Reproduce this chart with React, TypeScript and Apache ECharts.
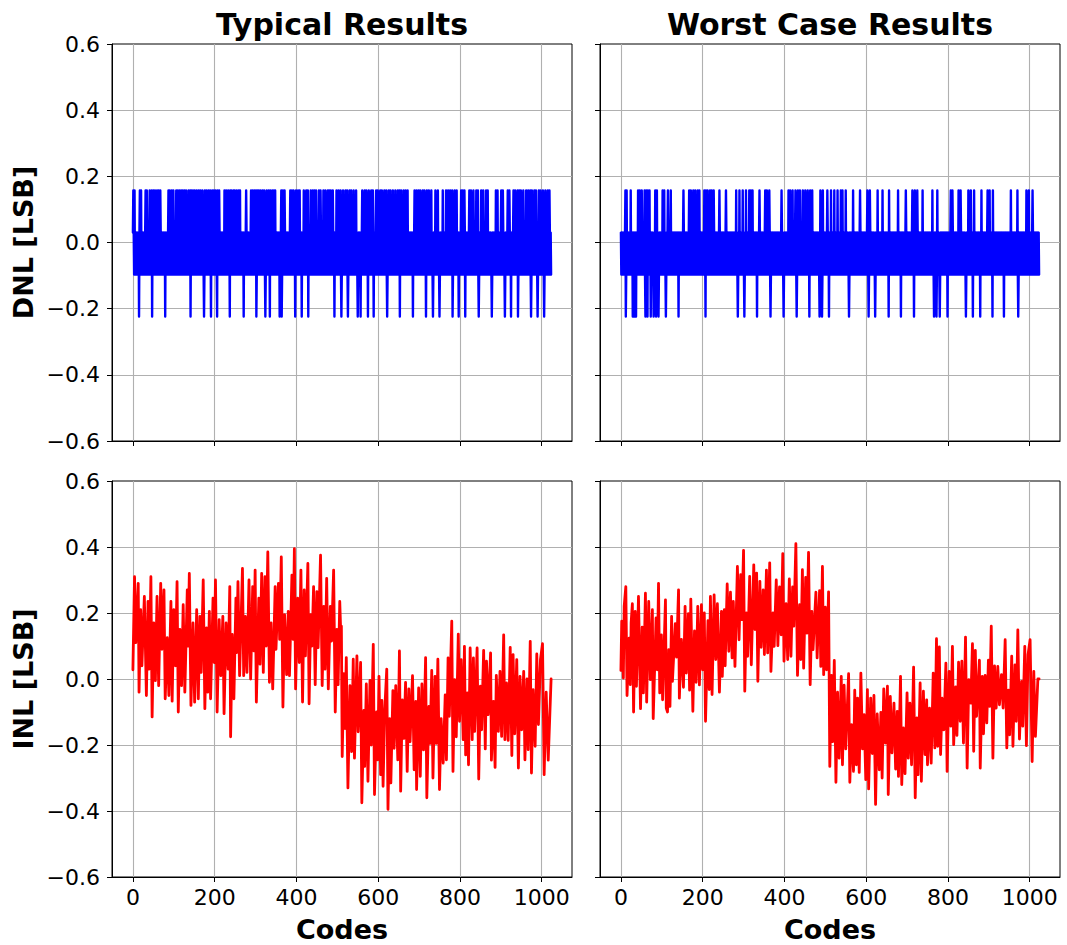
import React, { useEffect, useRef } from 'react';
import * as echarts from 'echarts';

const xTicks = [0, 200, 400, 600, 800, 1000];
const columnTitles = ['Typical Results', 'Worst Case Results'];
const rowLabels = ['DNL [LSB]', 'INL [LSB]'];
const xLabel = 'Codes';
const codeCount = 1024;
// DNL quantised levels: [down spike, band bottom, band top, up spike]
const dnlLevels = [-0.224, -0.097, 0.03, 0.157];

const dnlTypicalUp = [1,4,17,20,31,34,41,46,50,54,59,63,67,87,90,95,99,106,110,114,118,122,126,130,136,140,143,147,151,156,161,165,170,176,180,185,189,194,198,202,207,211,224,228,233,238,241,246,249,254,259,262,277,289,293,297,301,304,308,312,317,321,327,332,336,341,345,348,363,367,371,385,389,393,399,404,408,418,424,428,435,440,444,448,455,459,466,471,477,480,484,489,498,503,508,514,520,524,530,534,540,546,561,567,571,577,583,587,595,599,605,609,615,620,626,630,636,642,648,652,656,662,667,672,689,694,699,703,709,713,719,724,730,740,746,758,766,771,776,781,787,792,803,807,811,823,827,833,840,844,852,857,864,868,888,892,901,905,917,921,931,935,941,945,949,955,962,967,972,976,982,986,993,997,1003,1009,1015,1019];
const dnlTypicalDown = [15,47,79,141,174,191,206,237,271,302,324,335,359,364,397,413,429,493,510,526,550,557,575,589,622,653,685,717,734,750,782,797,813,846,878,910,925,942,974,990,1006];
const dnlWorstUp = [11,14,24,42,46,51,58,62,66,70,84,88,102,106,115,122,153,167,171,177,182,188,192,204,208,212,218,222,227,241,257,282,290,298,306,314,318,322,339,353,357,363,393,410,414,420,427,433,438,445,451,457,463,468,488,494,505,514,522,530,538,542,550,568,585,603,609,628,640,656,678,697,713,719,725,738,762,774,807,811,826,831,850,856,864,882,897,902,910,954,970,992,998,1007];
const dnlWorstDown = [12,29,33,37,60,65,73,80,86,92,110,141,207,286,302,333,366,398,430,461,486,492,509,558,606,622,655,685,717,766,772,780,799,844,861,879,909,937,972];

const inlTypical = [[0,0.028],[4,0.31],[7,0.11],[13,0.29],[15,-0.04],[19,0.21],[22,0.04],[28,0.25],[33,-0.05],[37,0.235],[40,0.03],[44,0.31],[47,-0.115],[51,0.17],[55,-0.005],[59,0.25],[63,-0.02],[68,0.29],[71,0.09],[76,0.27],[79,-0.06],[84,0.125],[88,-0.05],[93,0.235],[96,-0.067],[100,0.21],[104,0.04],[108,0.295],[111,-0.10],[115,0.15],[119,-0.02],[123,0.225],[127,-0.04],[133,0.27],[135,0.1],[138,0.32],[142,-0.08],[147,0.17],[151,-0.07],[156,0.21],[160,-0.06],[164,0.19],[167,0.02],[172,0.30],[176,-0.09],[180,0.155],[183,-0.04],[187,0.205],[190,-0.06],[196,0.245],[199,0.05],[202,0.30],[206,-0.10],[211,0.18],[215,0.01],[220,0.19],[223,-0.105],[228,0.17],[233,0.03],[237,0.28],[239,-0.175],[243,0.135],[247,-0.06],[252,0.245],[254,0.08],[257,0.295],[261,0.01],[268,0.335],[271,0.01],[275,0.19],[279,0.02],[284,0.30],[288,0.00],[293,0.28],[296,0.085],[299,0.33],[302,-0.07],[308,0.245],[311,0.045],[315,0.32],[319,0.02],[323,0.31],[326,0.1],[330,0.385],[334,-0.01],[338,0.17],[342,-0.03],[348,0.28],[350,0.09],[356,0.29],[359,0.12],[363,0.37],[367,-0.085],[371,0.195],[376,0.013],[380,0.205],[383,0.01],[389,0.315],[392,0.12],[395,0.395],[398,-0.03],[403,0.245],[407,0.05],[411,0.33],[415,-0.07],[419,0.27],[422,0.07],[428,0.35],[431,-0.075],[435,0.195],[438,0.10],[442,0.28],[446,-0.017],[450,0.265],[453,0.095],[459,0.375],[463,-0.02],[467,0.22],[470,0.03],[474,0.305],[478,-0.03],[483,0.22],[486,0.115],[491,0.33],[495,-0.10],[499,0.15],[502,-0.017],[506,0.235],[509,0.12],[510,0.16],[512,-0.235],[516,0.016],[519,-0.15],[522,0.065],[526,-0.33],[531,-0.02],[535,-0.22],[539,0.06],[542,-0.24],[548,0.07],[551,-0.16],[557,0.05],[560,-0.375],[565,-0.095],[567,-0.265],[571,-0.015],[575,-0.31],[580,-0.004],[583,-0.20],[588,0.105],[591,-0.35],[596,-0.10],[599,-0.245],[602,0.008],[606,-0.29],[609,-0.065],[612,-0.325],[616,-0.095],[621,0.03],[624,-0.395],[628,-0.12],[631,-0.315],[636,-0.035],[639,-0.21],[643,-0.02],[648,-0.245],[652,0.085],[655,-0.34],[659,-0.063],[663,-0.18],[667,-0.01],[671,-0.28],[675,-0.03],[678,-0.19],[684,0.01],[688,-0.275],[692,-0.068],[694,-0.335],[699,-0.027],[703,-0.295],[707,-0.015],[711,-0.215],[716,0.065],[719,-0.36],[724,-0.083],[727,-0.195],[731,0.026],[734,-0.30],[739,0.008],[742,-0.195],[746,0.06],[750,-0.335],[754,-0.12],[759,-0.255],[764,-0.048],[767,-0.245],[771,0.064],[774,-0.113],[780,0.175],[783,-0.28],[787,-0.002],[791,-0.175],[796,0.136],[799,-0.128],[803,0.059],[808,-0.184],[811,0.099],[814,-0.23],[818,-0.042],[821,-0.26],[825,0.094],[830,-0.184],[833,0.064],[836,-0.159],[842,0.094],[846,-0.303],[850,-0.022],[853,-0.154],[858,0.087],[862,-0.212],[865,0.054],[869,-0.108],[875,0.079],[877,-0.246],[882,-0.068],[886,-0.268],[889,0.011],[894,-0.159],[898,0.023],[902,-0.174],[907,0.134],[910,-0.184],[914,-0.012],[918,-0.186],[923,0.096],[927,-0.232],[930,0.074],[934,-0.166],[939,0.059],[943,-0.27],[947,0.008],[951,-0.154],[956,0.023],[959,-0.245],[964,0],[967,-0.214],[972,0.114],[975,-0.285],[979,-0.032],[984,-0.204],[988,0.076],[992,-0.138],[997,0.059],[1002,0.107],[1006,-0.29],[1011,-0.04],[1016,-0.246],[1023,0.0]];

const inlWorst = [[0,0.026],[2,0.175],[6,0.003],[8,0.22],[12,0.28],[15,-0.05],[20,0.124],[23,-0.017],[25,0.17],[28,0.228],[31,-0.10],[35,0.205],[38,-0.022],[43,0.25],[48,-0.09],[52,0.157],[55,-0.042],[60,0.26],[63,-0.07],[68,0.235],[72,-0.002],[77,0.21],[79,-0.12],[86,0.185],[89,0.028],[92,0.29],[95,-0.042],[99,0.134],[102,-0.063],[109,0.24],[111,-0.088],[114,-0.10],[117,0.089],[120,-0.083],[124,0.19],[126,-0.007],[133,0.168],[136,0.066],[141,0.27],[143,-0.058],[148,0.12],[153,-0.025],[157,0.22],[160,0.018],[165,0.198],[168,-0.034],[171,0.242],[176,-0.098],[180,0.146],[184,-0.01],[188,0.22],[192,-0.018],[197,0.225],[200,0.028],[204,0.2],[207,-0.128],[213,0.177],[216,-0.032],[219,0.25],[223,-0.047],[228,0.255],[232,0.059],[236,0.228],[241,-0.04],[246,0.205],[248,0.008],[253,0.21],[255,0.04],[260,0.288],[264,0.084],[268,0.263],[272,0.064],[275,0.235],[279,0.038],[285,0.341],[289,0.119],[293,0.316],[296,0.18],[300,0.39],[303,-0.037],[307,0.2],[310,0.069],[315,0.311],[319,0.043],[325,0.346],[328,0.15],[332,0.321],[335,-0.007],[340,0.296],[343,0.096],[348,0.27],[351,0.074],[356,0.33],[359,0.079],[364,0.352],[367,0.023],[372,0.2],[375,0.099],[380,0.30],[384,0.101],[388,0.279],[392,0.134],[396,0.38],[399,0.054],[404,0.228],[408,0.059],[412,0.303],[416,0.069],[420,0.279],[423,0.16],[428,0.41],[432,0.011],[437,0.225],[440,0.059],[444,0.331],[447,0.033],[452,0.308],[455,0.139],[459,0.384],[463,-0.017],[467,0.205],[470,0.089],[477,0.263],[480,0.064],[486,0.268],[489,0.038],[493,0.341],[496,0.013],[500,0.218],[503,0.028],[508,0.264],[511,-0.265],[515,0.011],[518,-0.19],[522,0.056],[526,-0.313],[530,-0.04],[534,-0.24],[539,0.008],[542,-0.26],[546,-0.019],[550,-0.212],[557,0.016],[560,-0.313],[564,-0.138],[569,-0.28],[572,-0.034],[576,-0.26],[579,-0.058],[583,-0.283],[587,0.018],[591,-0.212],[595,-0.108],[599,-0.305],[603,-0.032],[606,-0.333],[611,-0.058],[615,-0.226],[619,-0.05],[623,-0.38],[627,-0.106],[632,-0.275],[636,-0.101],[639,-0.30],[643,-0.03],[647,-0.194],[652,-0.022],[654,-0.35],[659,-0.053],[663,-0.224],[668,-0.073],[672,-0.273],[676,-0.098],[679,-0.295],[684,0.008],[687,-0.32],[691,-0.148],[695,-0.287],[700,-0.042],[703,-0.24],[707,-0.073],[711,-0.26],[716,0.036],[720,-0.36],[724,-0.118],[727,-0.29],[732,-0.012],[735,-0.31],[740,-0.037],[744,-0.229],[748,-0.063],[750,-0.26],[755,-0.088],[759,-0.255],[764,0.018],[768,-0.209],[772,0.122],[775,-0.204],[779,0.097],[782,-0.229],[786,-0.058],[790,-0.154],[795,0.048],[798,-0.28],[803,0.023],[807,-0.143],[811,0.099],[814,-0.199],[819,-0.024],[822,-0.171],[826,0.051],[830,-0.128],[834,0.054],[838,-0.194],[843,0.127],[847,-0.27],[851,-0.002],[856,-0.073],[860,0.107],[863,-0.219],[867,0.087],[870,-0.113],[877,0.057],[879,-0.27],[884,0.008],[887,-0.166],[891,0.011],[895,-0.133],[899,0.057],[902,-0.083],[906,0.16],[910,-0.24],[914,0.04],[918,-0.088],[922,0.038],[926,-0.078],[931,0.013],[935,-0.088],[940,0.119],[944,-0.209],[948,-0.034],[951,-0.169],[956,0.069],[959,-0.204],[964,0.043],[967,-0.128],[971,0.149],[975,-0.182],[980,-0.007],[983,-0.143],[988,0.099],[992,-0.202],[996,0.074],[1001,0.119],[1006,-0.25],[1010,0.023],[1014,-0.174],[1020,0.0],[1023,0.0]];

function buildDnl(up: number[], down: number[]) {
  const upSet = new Set(up);
  const downSet = new Set(down);
  const out: number[][] = [];
  for (let i = 0; i < codeCount; i++) {
    let v: number;
    if (upSet.has(i)) v = dnlLevels[3];
    else if (downSet.has(i)) v = dnlLevels[0];
    else v = i % 2 === 0 ? dnlLevels[2] : dnlLevels[1];
    out.push([i, v]);
  }
  return out;
}

const FONT = 'DejaVu Sans';

export default function App() {
  const ref = useRef<HTMLDivElement>(null);
  useEffect(() => {
    if (!ref.current) return;
    const chart = echarts.init(ref.current, null, { renderer: 'svg' });
    const grids = [
      { left: 112, top: 44, width: 460, height: 397 },
      { left: 600, top: 44, width: 460, height: 397 },
      { left: 112, top: 481, width: 460, height: 396 },
      { left: 600, top: 481, width: 460, height: 396 },
    ];
    const fmtY = (v: number) => {
      const r = Math.round(v * 10) / 10;
      return (r < 0 ? '\u2212' : '') + Math.abs(r).toFixed(1);
    };
    const fmtX = (v: number) => String(Math.round(v));
    const xAxis = grids.map((_, i) => ({
      type: 'value',
      gridIndex: i,
      min: -51.15,
      max: 1074.15,
      axisLine: { show: true, onZero: false, lineStyle: { color: '#000', width: 1 } },
      axisTick: { show: true, customValues: xTicks, length: 5, inside: false, lineStyle: { color: '#000', width: 1 } },
      axisLabel: { show: i >= 2, customValues: xTicks, formatter: fmtX, fontSize: 22, color: '#000', fontFamily: FONT, margin: 9 },
      splitLine: { show: true, lineStyle: { color: '#b0b0b0', width: 1.1 } },
    }));
    const yAxis = grids.map((_, i) => ({
      type: 'value',
      gridIndex: i,
      min: -0.6,
      max: 0.6,
      interval: 0.2,
      axisLine: { show: true, onZero: false, lineStyle: { color: '#000', width: 1 } },
      axisTick: { show: true, length: 5, inside: false, lineStyle: { color: '#000', width: 1 } },
      axisLabel: { show: i % 2 === 0, formatter: fmtY, fontSize: 22, color: '#000', fontFamily: FONT, margin: 12 },
      splitLine: { show: true, showMinLine: false, showMaxLine: false, lineStyle: { color: '#b0b0b0', width: 1.1 } },
    }));
    const seriesData = [
      { data: buildDnl(dnlTypicalUp, dnlTypicalDown), color: '#0000ff', width: 2.4 },
      { data: buildDnl(dnlWorstUp, dnlWorstDown), color: '#0000ff', width: 2.4 },
      { data: inlTypical, color: '#ff0000', width: 2.8 },
      { data: inlWorst, color: '#ff0000', width: 2.8 },
    ];
    const series = seriesData.map((s, i) => ({
      type: 'line',
      xAxisIndex: i,
      yAxisIndex: i,
      data: s.data,
      showSymbol: false,
      symbol: 'none',
      lineStyle: { color: s.color, width: s.width, join: 'round', cap: 'round' },
      itemStyle: { color: s.color },
      clip: true,
    }));
    const titleFont = `bold 30px "${FONT}"`;
    const labelFont = `bold 27px "${FONT}"`;
    const graphic: any[] = [];
    columnTitles.forEach((t, c) => {
      graphic.push({
        type: 'text', x: grids[c].left + grids[c].width / 2, y: 24,
        style: { text: t, font: titleFont, fill: '#000', textAlign: 'center', textVerticalAlign: 'middle' },
      });
      graphic.push({
        type: 'text', x: grids[c + 2].left + grids[c + 2].width / 2, y: 929,
        style: { text: xLabel, font: labelFont, fill: '#000', textAlign: 'center', textVerticalAlign: 'middle' },
      });
    });
    rowLabels.forEach((t, r) => {
      const g = grids[r * 2];
      graphic.push({
        type: 'text', x: 23, y: g.top + g.height / 2, rotation: Math.PI / 2,
        style: { text: t, font: labelFont, fill: '#000', textAlign: 'center', textVerticalAlign: 'middle' },
      });
    });
    chart.setOption({
      animation: false,
      backgroundColor: '#fff',
      grid: grids.map((g) => ({ ...g, show: true, borderColor: '#000', borderWidth: 1, backgroundColor: 'transparent' })),
      xAxis,
      yAxis,
      series,
      graphic,
    });
    return () => chart.dispose();
  }, []);
  return <div ref={ref} style={{ position: 'absolute', left: 0, top: 0, width: 1067, height: 945 }} />;
}
